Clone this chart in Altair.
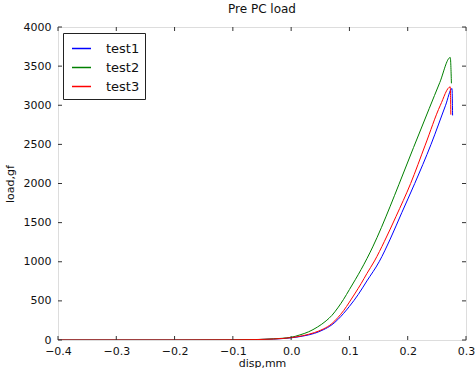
import altair as alt
import pandas as pd

# ---- data ----
series_names = ["test1", "test2", "test3"]
series_colors = ["#0000ff", "#008000", "#ff0000"]

test1_disp = [-0.4, -0.2, -0.1, -0.06, -0.03, 0.0, 0.02, 0.04, 0.055, 0.07, 0.08, 0.09,
              0.1, 0.115, 0.13, 0.151, 0.17, 0.19, 0.212, 0.24, 0.265, 0.276, 0.277]
test1_load = [0, 0, 2, 5, 12, 28, 50, 85, 130, 195, 260, 340,
              430, 580, 755, 1000, 1290, 1630, 2000, 2500, 3000, 3214, 2870]

test2_disp = [-0.4, -0.2, -0.1, -0.06, -0.03, 0.0, 0.015, 0.03, 0.045, 0.06, 0.07, 0.08,
              0.09, 0.1, 0.11, 0.12, 0.13, 0.14, 0.155, 0.17, 0.185, 0.21, 0.237, 0.255,
              0.273, 0.275]
test2_load = [0, 0, 2, 6, 15, 35, 65, 105, 165, 245, 315, 410,
              520, 645, 770, 900, 1040, 1190, 1440, 1710, 1990, 2460, 2960, 3290,
              3610, 3280]

test3_disp = [-0.4, -0.2, -0.1, -0.06, -0.03, 0.0, 0.02, 0.04, 0.055, 0.07, 0.08, 0.09,
              0.1, 0.11, 0.12, 0.13, 0.143, 0.16, 0.18, 0.205, 0.23, 0.256, 0.273, 0.274]
test3_load = [0, 0, 2, 5, 13, 30, 55, 95, 140, 210, 285, 375,
              485, 600, 720, 850, 1010, 1260, 1580, 2000, 2490, 3000, 3235, 2880]

x_ticks = [-0.4, -0.3, -0.2, -0.1, 0.0, 0.1, 0.2, 0.3]
y_ticks = [0, 500, 1000, 1500, 2000, 2500, 3000, 3500, 4000]

rows = []
for name, xs, ys in [("test1", test1_disp, test1_load),
                     ("test2", test2_disp, test2_load),
                     ("test3", test3_disp, test3_load)]:
    for i, (a, b) in enumerate(zip(xs, ys)):
        rows.append({"series": name, "disp": a, "load": b, "order": i})
df = pd.DataFrame(rows)

W, H = 408, 313
FONT = "DejaVu Sans"

xscale = alt.Scale(domain=[-0.4, 0.3], nice=False, zero=False)
yscale = alt.Scale(domain=[0, 4000], nice=False)

x_axis = alt.Axis(values=x_ticks, format=".1f", grid=False, ticks=False,
                  domain=False, labelPadding=5, titlePadding=1,
                  labelOverlap=False, labelFlush=False,
                  labelFontSize=11, titleFontSize=11, labelFont=FONT,
                  titleFont=FONT, titleFontWeight="normal",
                  labelColor="#111", titleColor="#111")
y_axis = alt.Axis(values=y_ticks, format="d", grid=False, ticks=False,
                  domain=False, labelPadding=7, titlePadding=8,
                  labelOverlap=False, labelFlush=False,
                  labelFontSize=11, titleFontSize=11, labelFont=FONT,
                  titleFont=FONT, titleFontWeight="normal",
                  labelColor="#111", titleColor="#111")


def X():
    return alt.X("disp:Q", scale=xscale, title="disp,mm", axis=x_axis)


def Y():
    return alt.Y("load:Q", scale=yscale, title="load,gf", axis=y_axis)


lines = alt.Chart(df).mark_line(strokeWidth=1, clip=True, interpolate="monotone").encode(
    x=X(),
    y=Y(),
    color=alt.Color("series:N",
                    scale=alt.Scale(domain=series_names, range=series_colors),
                    legend=alt.Legend(title=None, orient="none", legendX=5, legendY=6,
                                      symbolType="stroke", symbolSize=361,
                                      symbolStrokeWidth=1.5, labelFontSize=13,
                                      labelFont=FONT, labelOffset=14, rowPadding=1,
                                      symbolOffset=3,
                                      padding=5, strokeColor="#222", fillColor="white",
                                      labelColor="#111")),
    order="order:Q",
)

xt = pd.DataFrame({"disp": x_ticks})
yt = pd.DataFrame({"load": y_ticks})
tick_color = "#333"
xb = alt.Chart(xt).mark_rule(color=tick_color, strokeWidth=1).encode(
    x=X(), y=alt.value(H), y2=alt.value(H - 4))
xtp = alt.Chart(xt).mark_rule(color=tick_color, strokeWidth=1).encode(
    x=X(), y=alt.value(0), y2=alt.value(4))
yl = alt.Chart(yt).mark_rule(color=tick_color, strokeWidth=1).encode(
    y=Y(), x=alt.value(0), x2=alt.value(4))
yr = alt.Chart(yt).mark_rule(color=tick_color, strokeWidth=1).encode(
    y=Y(), x=alt.value(W), x2=alt.value(W - 4))

chart = alt.layer(lines, xb, xtp, yl, yr).properties(
    width=W, height=H,
    title=alt.Title("Pre PC load", fontSize=12, font=FONT, fontWeight="normal",
                    anchor="middle", offset=5, color="#111"),
    autosize=alt.AutoSizeParams(type="none"),
    padding={"left": 58, "top": 27, "right": 9, "bottom": 28},
).configure_view(stroke="#444", strokeWidth=1.5).configure(background="white")

chart.save("out.html", embed_options={"renderer": "svg", "actions": False})
